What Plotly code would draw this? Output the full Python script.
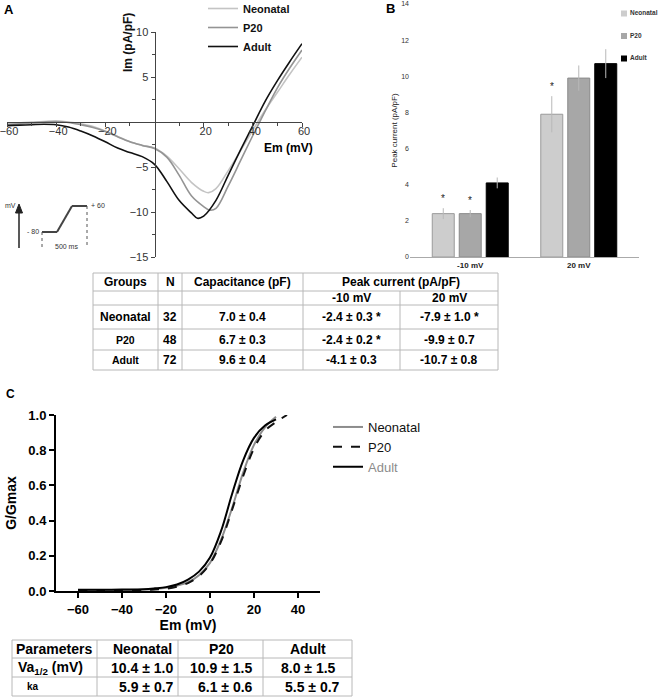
import plotly.graph_objects as go

W, H = 662, 700
FONT = "Arial, 'Liberation Sans', sans-serif"

groups = ["Neonatal", "P20", "Adult"]

# ---------------- Panel A : ramp I-V curves ----------------
em_neo = [-60, -55, -50, -45, -40, -35, -30, -25, -20, -15, -10, -5, 0, 5, 10, 15, 20, 22, 25, 30, 35, 40, 45, 50, 55, 60]
im_neo = [-0.2, -0.1, 0.0, 0.05, 0.1, 0.0, -0.2, -0.5, -1.0, -1.6, -2.2, -2.6, -2.9, -3.8, -5.2, -6.7, -7.7, -7.85, -7.4, -5.4, -3.2, -0.9, 1.3, 3.3, 5.3, 7.2]
em_p20 = [-60, -55, -50, -45, -40, -35, -30, -25, -20, -15, -10, -5, 0, 5, 10, 15, 20, 22.5, 25, 30, 35, 40, 45, 50, 55, 60]
im_p20 = [-0.3, -0.2, -0.1, 0.0, 0.05, -0.05, -0.3, -0.6, -1.05, -1.65, -2.2, -2.6, -2.95, -3.9, -5.9, -8.2, -9.4, -9.8, -9.6, -7.1, -4.3, -1.5, 1.2, 3.8, 6.0, 8.0]
em_adult = [-60, -55, -50, -45, -40, -35, -30, -25, -20, -15, -10, -5, 0, 5, 10, 15, 17.5, 20, 25, 30, 35, 40, 45, 50, 55, 60]
im_adult = [-0.4, -0.35, -0.3, -0.25, -0.3, -0.55, -1.0, -1.55, -2.2, -2.9, -3.4, -3.85, -4.7, -6.6, -8.7, -10.1, -10.7, -10.45, -8.7, -5.9, -3.1, -0.4, 2.3, 4.6, 6.7, 8.7]
a_xticks = [-60, -40, -20, 20, 40, 60]
a_yticks = [-15, -10, -5, 5, 10]

# ---------------- Table 1 values ----------------
n_cells = [32, 48, 72]
cap_mean = [7.0, 6.7, 9.6]
cap_sem = [0.4, 0.3, 0.4]
peak_m10 = [-2.4, -2.4, -4.1]
sem_m10 = [0.3, 0.2, 0.3]
sig_m10 = [" *", " *", ""]
peak_20 = [-7.9, -9.9, -10.7]
sem_20 = [1.0, 0.7, 0.8]
sig_20 = [" *", "", ""]

# ---------------- Panel B : peak current bars ----------------
b_categories = ["-10 mV", "20 mV"]
b_yticks = [0, 2, 4, 6, 8, 10, 12, 14]

# ---------------- Panel C : activation curves ----------------
v_neo = [-60, -50, -40, -30, -25, -20, -15, -10, -5, 0, 5, 10, 15, 20, 25, 30]
g_neo = [0.005, 0.005, 0.005, 0.008, 0.012, 0.018, 0.03, 0.05, 0.09, 0.16, 0.29, 0.47, 0.67, 0.83, 0.93, 0.99]
v_p20 = [-60, -50, -40, -30, -25, -20, -15, -10, -5, 0, 5, 10, 15, 20, 25, 30, 35]
g_p20 = [0.0, 0.0, 0.002, 0.005, 0.008, 0.013, 0.025, 0.045, 0.085, 0.155, 0.28, 0.46, 0.65, 0.81, 0.91, 0.96, 1.0]
v_adult = [-60, -50, -40, -30, -25, -20, -15, -10, -5, 0, 5, 10, 15, 20, 25, 30]
g_adult = [0.007, 0.007, 0.008, 0.01, 0.015, 0.022, 0.037, 0.065, 0.11, 0.19, 0.34, 0.55, 0.74, 0.87, 0.94, 0.975]
c_xticks = [-60, -40, -20, 0, 20, 40]
c_yticks = [0.0, 0.2, 0.4, 0.6, 0.8, 1.0]

# ---------------- Table 2 values ----------------
va_mean = [10.4, 10.9, 8.0]
va_sem = [1.0, 1.5, 1.5]
ka_mean = [5.9, 6.1, 5.5]
ka_sem = [0.7, 0.6, 0.7]


def px(x):
    return x / W


def py(y):
    return 1 - y / H


def dom_x(a, b):
    return [a / W, b / W]


def dom_y(top, bottom):
    return [1 - bottom / H, 1 - top / H]


fig = go.Figure()

# ---- Panel A traces
a_colors = ["#c4c4c4", "#949494", "#111111"]
for name, xs, ys, col in zip(groups, [em_neo, em_p20, em_adult], [im_neo, im_p20, im_adult], a_colors):
    fig.add_trace(go.Scatter(x=xs, y=ys, mode="lines", name=name,
                             line=dict(color=col, width=1.6, shape="spline", smoothing=1.0),
                             xaxis="x", yaxis="y", legend="legend"))

# ---- Panel B traces
b_colors = ["#cdcdcd", "#a7a7a7", "#000000"]
b_lines = ["#9a9a9a", "#8a8a8a", "#000000"]
BARGAP, GROUPGAP = 0.254, 0.185
slot = (1 - BARGAP) / 3
b_values = [[abs(peak_m10[i]), abs(peak_20[i])] for i in range(3)]
b_errors = [[sem_m10[i], sem_20[i]] for i in range(3)]
for i, name in enumerate(groups):
    fig.add_trace(go.Bar(x=[0, 1], y=b_values[i], name=name, showlegend=False,
                         marker=dict(color=b_colors[i], line=dict(color=b_lines[i], width=1)),
                         error_y=dict(type="data", array=b_errors[i], color="#b8b8b8", thickness=1, width=0),
                         xaxis="x2", yaxis="y2", legendgroup=name))
    # legend entry for the bar series (its swatch is drawn next to the text below)
    fig.add_trace(go.Scatter(x=[None], y=[None], mode="markers", name=name,
                             marker=dict(symbol="square", size=1, color="rgba(0,0,0,0)",
                                         line=dict(width=0, color="rgba(0,0,0,0)")),
                             xaxis="x2", yaxis="y2", legend="legend2", legendgroup=name))

# ---- Panel C traces
c_styles = [dict(color="#8c8c8c", width=2, dash="solid"),
            dict(color="#111111", width=2, dash="dash"),
            dict(color="#000000", width=2, dash="solid")]
c_names = ["Neonatal", "P20", '<span style="color:#8c8c8c">Adult</span>']
for name, xs, ys, st in zip(c_names, [v_neo, v_p20, v_adult], [g_neo, g_p20, g_adult], c_styles):
    fig.add_trace(go.Scatter(x=xs, y=ys, mode="lines", name=name,
                             line=dict(color=st["color"], width=st["width"], dash=st["dash"], shape="spline"),
                             xaxis="x3", yaxis="y3", legend="legend3", cliponaxis=False))

# ---- axis positions for panel A (axes crossing at zero)
ax_dom = dom_x(7, 302)
ay_dom = dom_y(32, 257)
ax_rng = [-60, 60]
ay_rng = [-15, 10]
xaxis_pos = ay_dom[0] + (0 - ay_rng[0]) / (ay_rng[1] - ay_rng[0]) * (ay_dom[1] - ay_dom[0])
yaxis_pos = ax_dom[0] + (0 - ax_rng[0]) / (ax_rng[1] - ax_rng[0]) * (ax_dom[1] - ax_dom[0])

a_tickfont = dict(family=FONT, size=11, color="#333333")

layout = dict(
    template="none",
    width=W, height=H, margin=dict(l=0, r=0, t=0, b=0, pad=0, autoexpand=False),
    paper_bgcolor="white", plot_bgcolor="rgba(0,0,0,0)",
    font=dict(family=FONT, color="#000"),
    barmode="group", bargap=BARGAP, bargroupgap=GROUPGAP,
    xaxis=dict(domain=ax_dom, range=ax_rng, anchor="free", position=xaxis_pos, automargin=False,
               tickvals=a_xticks, ticks="outside", ticklen=4, tickcolor="#444",
               minor=dict(tickvals=[-50, -30, -10, 10, 30, 50], ticks="outside", ticklen=3, tickcolor="#444"),
               showline=True, linecolor="#444", linewidth=1, showgrid=False, zeroline=False,
               tickfont=a_tickfont, ticklabeloverflow="allow", ticklabelshift=2, ticklabelstandoff=-5),
    yaxis=dict(domain=ay_dom, range=ay_rng, anchor="free", position=yaxis_pos, automargin=False,
               tickvals=a_yticks, ticks="outside", ticklen=4, tickcolor="#444",
               minor=dict(tickvals=[-12.5, -7.5, -2.5, 2.5, 7.5], ticks="outside", ticklen=3, tickcolor="#444"),
               showline=True, linecolor="#444", linewidth=1, showgrid=False, zeroline=False,
               tickfont=a_tickfont, ticklabeloverflow="allow"),
    xaxis2=dict(domain=dom_x(410, 639), range=[-0.555, 1.555], anchor="y2", automargin=False,
                tickvals=[0, 1], ticktext=b_categories, ticks="",
                showline=True, linecolor="#aaaaaa", linewidth=1, showgrid=False, zeroline=False,
                tickfont=dict(family=FONT, size=8, color="#222", weight="bold")),
    yaxis2=dict(domain=dom_y(4, 257), range=[0, 14], anchor="x2", tickvals=b_yticks, automargin=False,
                showline=False, showgrid=False, zeroline=False, ticks="",
                tickfont=dict(family=FONT, size=7, color="#333"),
                title=dict(text="Peak current (pA/pF)", font=dict(family=FONT, size=8, color="#222"), standoff=2)),
    xaxis3=dict(domain=dom_x(56, 320), range=[-70, 50], anchor="y3", tickvals=c_xticks, automargin=False,
                ticks="outside", ticklen=5, tickwidth=1.5, tickcolor="#000",
                showline=True, linecolor="#000", linewidth=2, showgrid=False, zeroline=False,
                tickfont=dict(family=FONT, size=13, color="#000", weight="bold"),
                title=dict(text="Em (mV)", font=dict(family=FONT, size=14, color="#000", weight="bold"), standoff=4)),
    yaxis3=dict(domain=dom_y(415, 591), range=[0, 1.0], anchor="x3", tickvals=c_yticks, tickformat=".1f",
                automargin=False,
                ticks="outside", ticklen=5, tickwidth=1.5, tickcolor="#000",
                showline=True, linecolor="#000", linewidth=2, showgrid=False, zeroline=False,
                tickfont=dict(family=FONT, size=13, color="#000", weight="bold"),
                title=dict(text="G/Gmax", font=dict(family=FONT, size=14, color="#000", weight="bold"), standoff=8)),
    legend=dict(x=px(203), y=py(-6), xanchor="left", yanchor="top", bgcolor="rgba(0,0,0,0)",
                font=dict(family=FONT, size=11, color="#111", weight="bold"), tracegroupgap=0),
    legend2=dict(x=px(590), y=py(-2), xanchor="left", yanchor="top", bgcolor="rgba(0,0,0,0)",
                 font=dict(family=FONT, size=6.5, color="#333", weight="bold"), tracegroupgap=3.5),
    legend3=dict(x=px(328), y=py(412), xanchor="left", yanchor="top", bgcolor="rgba(0,0,0,0)",
                 font=dict(family=FONT, size=13, color="#111")),
)
fig.update_layout(**layout)

shapes = []
annotations = []


def seg(x0, y0, x1, y1, color="#b8b8b8", w=1, dash="solid"):
    shapes.append(dict(type="line", xref="paper", yref="paper",
                       x0=px(x0), y0=py(y0), x1=px(x1), y1=py(y1),
                       line=dict(color=color, width=w, dash=dash)))


def txt(text, x, y, size=12, bold=True, color="#000", xanchor="center"):
    annotations.append(dict(text=text, x=px(x), y=py(y), xref="paper", yref="paper",
                            xanchor=xanchor, yanchor="middle", showarrow=False,
                            font=dict(family=FONT, size=size, color=color, weight="bold" if bold else "normal")))


# Panel letters
txt("A", 9, 9, 13)
txt("B", 390, 8, 13)
txt("C", 10, 394, 12)

# Panel B legend swatches, placed just left of the legend texts
for i in range(3):
    yc = 13.5 + i * 22.5
    shapes.append(dict(type="rect", xref="paper", yref="paper",
                       x0=px(621), x1=px(627), y0=py(yc + 3), y1=py(yc - 3),
                       fillcolor=b_colors[i], line=dict(width=0)))

# Panel A axis titles
txt("Em (mV)", 315, 148, 12, xanchor="right")
annotations.append(dict(text="Im (pA/pF)", x=px(128), y=py(43), xref="paper", yref="paper",
                        textangle=-90, showarrow=False, xanchor="center", yanchor="middle",
                        font=dict(family=FONT, size=12, color="#111", weight="bold")))

# Panel A voltage protocol inset
seg(19, 248, 19, 210, "#222", 1.5)
shapes.append(dict(type="path", xref="paper", yref="paper",
                   path=f"M {px(15.5)},{py(213)} L {px(19)},{py(204)} L {px(22.5)},{py(213)} Z",
                   fillcolor="#222", line=dict(color="#222", width=1)))
txt("mV", 10, 206, 7, bold=False, color="#333")
txt("- 80", 33, 232, 7, bold=False, color="#333")
txt("+ 60", 98, 206, 7, bold=False, color="#333")
txt("500 ms", 66, 246, 7, bold=False, color="#333")
seg(42, 232, 57, 232, "#444", 2)
seg(57, 232, 72, 206, "#444", 2)
seg(72, 206, 87, 206, "#444", 2)
seg(42, 232, 42, 248, "#555", 1, "dot")
seg(87, 206, 87, 248, "#555", 1, "dot")

# Panel B significance asterisks (data coordinates)
for gi, sig_list in [(0, sig_m10), (1, sig_20)]:
    for i in range(3):
        if sig_list[i].strip():
            xpos = gi + (i - 1) * slot
            ypos = b_values[i][gi] + b_errors[i][gi] + 0.55
            annotations.append(dict(text="*", x=xpos, y=ypos, xref="x2", yref="y2", showarrow=False,
                                    xanchor="center", yanchor="middle",
                                    font=dict(family=FONT, size=10, color="#222222")))

# ---- Table 1
t1_rows = [273, 291, 305, 329, 350, 370]
t1_cols = [93, 158, 182, 303, 400, 498]
for yv in t1_rows:
    seg(t1_cols[0], yv, t1_cols[-1], yv)
for xv in [93, 158, 182, 303, 498]:
    seg(xv, t1_rows[0], xv, t1_rows[-1])
seg(400, t1_rows[1], 400, t1_rows[-1])

txt("Groups", 125.5, 282, 12)
txt("N", 170, 282, 12)
txt("Capacitance (pF)", 242.5, 282, 12)
txt("Peak current (pA/pF)", 400.5, 282, 12)
txt("-10 mV", 351.5, 298, 12)
txt("20 mV", 449, 298, 12)
row_y = [317, 339.5, 360]
for i, g in enumerate(groups):
    txt(g, 125.5, row_y[i], 12 if i == 0 else 10.5)
    txt(str(n_cells[i]), 170, row_y[i], 12)
    txt(f"{cap_mean[i]:.1f} ± {cap_sem[i]:.1f}", 242.5, row_y[i], 12)
    txt(f"{peak_m10[i]:.1f} ± {sem_m10[i]:.1f}{sig_m10[i]}", 351.5, row_y[i], 12)
    txt(f"{peak_20[i]:.1f} ± {sem_20[i]:.1f}{sig_20[i]}", 449, row_y[i], 12)

# ---- Table 2
t2_rows = [640, 658, 677, 696]
t2_cols = [12, 97, 178, 263, 352]
for yv in t2_rows:
    seg(t2_cols[0], yv, t2_cols[-1], yv)
for xv in t2_cols:
    seg(xv, t2_rows[0], xv, t2_rows[-1])
col_c = [54, 142, 221, 308]
txt("Parameters", col_c[0], 649, 14)
for j, g in enumerate(groups):
    txt(g, col_c[j + 1], 649, 14)
txt("Va<sub>1/2</sub> (mV)", 50, 667.5, 14)
txt("ka", 33, 686.5, 10)
for j in range(3):
    txt(f"{va_mean[j]:.1f} ± {va_sem[j]:.1f}", col_c[j + 1], 667.5, 14)
    txt(f"{ka_mean[j]:.1f} ± {ka_sem[j]:.1f}", col_c[j + 1] + 4, 686.5, 14)

fig.update_layout(shapes=shapes, annotations=annotations)
fig.write_html("out.html", config={"displayModeBar": False},
               post_script="document.body.style.margin='0';document.body.style.padding='0';")
